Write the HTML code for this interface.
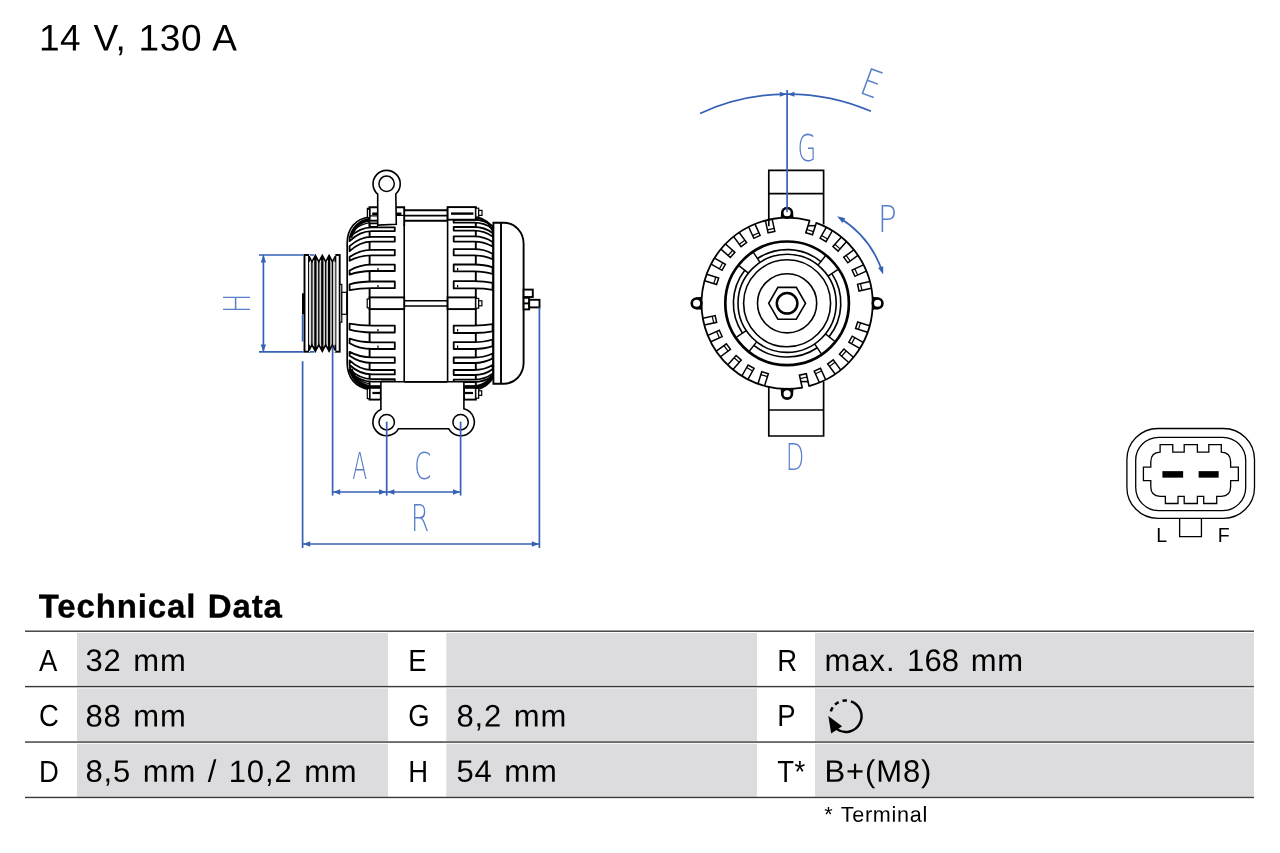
<!DOCTYPE html>
<html lang="en">
<head>
<meta charset="utf-8">
<title>14 V, 130 A - Technical Data</title>
<style>
html,body{margin:0;padding:0;background:#fff;}
body{width:1280px;height:853px;overflow:hidden;font-family:"Liberation Sans",sans-serif;color:#000;}
#sheet{position:absolute;left:0;top:0;width:1280px;height:853px;overflow:hidden;will-change:transform;background:#fff;}
svg{position:absolute;left:0;top:0;}
.t{position:absolute;white-space:nowrap;line-height:1;margin:0;transform-origin:0 0;}
#title{font-size:37px;letter-spacing:0.6px;word-spacing:1.4px;font-weight:400;}
#h2{font-size:33px;font-weight:700;letter-spacing:0.85px;word-spacing:1.6px;-webkit-text-stroke:0.35px #000;}
.k{font-size:30.5px;letter-spacing:0.5px;}
.c{font-size:31px;letter-spacing:0.9px;word-spacing:2px;}
#fn{font-size:21.6px;letter-spacing:0.7px;word-spacing:1px;}
</style>
</head>
<body>
<div id="sheet">
<svg width="1280" height="853" viewBox="0 0 1280 853" role="img" aria-label="Alternator dimensional drawing">
<!-- table background -->
<g stroke="none">
<rect x="77" y="632.95" width="311" height="52.9" fill="#dcdcde"/>
<rect x="446.3" y="632.95" width="310.7" height="52.9" fill="#dcdcde"/>
<rect x="815" y="632.95" width="439" height="52.9" fill="#dcdcde"/>
<rect x="77" y="688.35" width="311" height="52.95" fill="#dcdcde"/>
<rect x="446.3" y="688.35" width="310.7" height="52.95" fill="#dcdcde"/>
<rect x="815" y="688.35" width="439" height="52.95" fill="#dcdcde"/>
<rect x="77" y="743.8" width="311" height="52.9" fill="#dcdcde"/>
<rect x="446.3" y="743.8" width="310.7" height="52.9" fill="#dcdcde"/>
<rect x="815" y="743.8" width="439" height="52.9" fill="#dcdcde"/>
<rect x="25" y="630.5" width="1229" height="1.4" fill="#383838"/>
<rect x="25" y="685.9" width="1229" height="1.4" fill="#383838"/>
<rect x="25" y="741.35" width="1229" height="1.4" fill="#383838"/>
<rect x="25" y="796.75" width="1229" height="1.4" fill="#383838"/>
</g>
<!-- side view -->
<g fill="none" stroke="#000" stroke-width="1.9" stroke-linejoin="miter">
<rect x="304.5" y="255" width="4.5" height="96.7" fill="#fff"/>
<rect x="335.4" y="255" width="4.3" height="96.7" fill="#fff"/>
<rect x="309" y="261.8" width="26.4" height="83" fill="#d8d8d8" stroke="none"/>
<polygon points="309,256 311.9,261.8 315.4,255.4 318.8,261.8 322.3,255.4 325.7,261.8 329.1,255.4 332.4,261.8 335.4,256 335.4,254.3 309,254.3" fill="#fff" stroke="none"/>
<polygon points="309,350.6 311.9,344.8 315.4,351.2 318.8,344.8 322.3,351.2 325.7,344.8 329.1,351.2 332.4,344.8 335.4,350.6 335.4,352.3 309,352.3" fill="#fff" stroke="none"/>
<polyline points="309,256 311.9,261.8 315.4,255.4 318.8,261.8 322.3,255.4 325.7,261.8 329.1,255.4 332.4,261.8 335.4,256" stroke-width="1.6"/>
<polyline points="309,350.6 311.9,344.8 315.4,351.2 318.8,344.8 322.3,351.2 325.7,344.8 329.1,351.2 332.4,344.8 335.4,350.6" stroke-width="1.6"/>
<path d="M315.4 256.8 V349.8" stroke-width="2.3"/>
<path d="M315.4 254.8 L313.2 259.8 L317.6 259.8 Z" fill="#000" stroke="none"/>
<path d="M315.4 351.8 L313.2 346.8 L317.6 346.8 Z" fill="#000" stroke="none"/>
<path d="M322.3 256.8 V349.8" stroke-width="2.3"/>
<path d="M322.3 254.8 L320.1 259.8 L324.5 259.8 Z" fill="#000" stroke="none"/>
<path d="M322.3 351.8 L320.1 346.8 L324.5 346.8 Z" fill="#000" stroke="none"/>
<path d="M329.1 256.8 V349.8" stroke-width="2.3"/>
<path d="M329.1 254.8 L326.9 259.8 L331.3 259.8 Z" fill="#000" stroke="none"/>
<path d="M329.1 351.8 L326.9 346.8 L331.3 346.8 Z" fill="#000" stroke="none"/>
<path d="M311.9 261.8 V344.8" stroke-width="1.3"/>
<path d="M318.8 261.8 V344.8" stroke-width="1.3"/>
<path d="M325.7 261.8 V344.8" stroke-width="1.3"/>
<path d="M332.4 261.8 V344.8" stroke-width="1.3"/>
<rect x="339.8" y="284.4" width="2" height="37.8" fill="#fff" stroke-width="1.2"/>
<rect x="341.8" y="292.3" width="5" height="22" fill="#fff" stroke-width="1.2"/>
<rect x="302" y="293.3" width="2.6" height="21.1" fill="#000" stroke="none"/>
<path d="M493.4 222.7 H504 A19.6 21 0 0 1 523.6 243.7 V362.7 A19.6 21 0 0 1 504 383.7 H493.4 Z" fill="#fff"/>
<path d="M501 222.7 V383.7"/>
<rect x="523.6" y="289.6" width="9.2" height="7.4" fill="#fff"/>
<rect x="523.6" y="297.8" width="5.6" height="11.6" fill="#fff"/>
<path d="M523.6 303.4 H529.2"/>
<rect x="529.2" y="299.8" width="10.3" height="7.6" fill="#fff"/>
<path d="M369.5 217 C356 218.5 347.2 228 347.2 243 V363 C347.2 378 356 387.5 369.5 389.4" stroke-width="1.7"/>
<path d="M369.5 219.8 C358.5 221.4 351 229 349.6 240" stroke-width="1.3"/>
<path d="M369.5 386.6 C358.5 385 351 377.4 349.6 366.4" stroke-width="1.3"/>
<path d="M369.5 222.6 C359 224.5 351.5 231 349.6 240.5" stroke-width="1.3"/>
<path d="M369.5 383.6 C359 381.8 351.5 375 349.6 365.5" stroke-width="1.3"/>
<path d="M369.6 207.2 V399.6"/>
<path d="M404.2 207.5 V381.7 M447.6 207.5 V381.7" stroke-width="1.6"/>
<path d="M475.8 207.2 V399.6"/>
<path d="M475.8 216.6 C484 218.5 490 223 493.4 229.5" stroke-width="1.6"/>
<path d="M475.8 219 C483 220.6 489.5 225 493 232" stroke-width="1.2"/>
<path d="M475.8 389.8 C484 388 490 383.4 493.4 377" stroke-width="1.6"/>
<path d="M475.8 387.4 C483 385.8 489.5 381.4 493 374.4" stroke-width="1.2"/>
<path d="M493 229 V377.4" stroke-width="1.4"/>
<path d="M372 227.4 H394.8 V231.1 H372 C362 231.1 354.6 236.1 349.6 241.1 V237.4 C354.6 232.4 362 227.4 372 227.4" stroke-width="1.8" fill="#fff" stroke-linejoin="round"/>
<path d="M372 236.8 H394.8 V241.6 H372 C362 241.6 354.6 246.4 349.6 251.2 V246.2 C354.6 241.5 362 236.8 372 236.8" stroke-width="1.8" fill="#fff" stroke-linejoin="round"/>
<path d="M372 249.8 H394.8 V255.3 H372 C362 255.3 354.6 258 349.6 260.7 V257 C354.6 253.4 362 249.8 372 249.8" stroke-width="1.8" fill="#fff" stroke-linejoin="round"/>
<path d="M372 264.7 H394.8 V271 H372 C362 271 354.6 272.8 349.6 274.6 V270.5 C354.6 267.6 362 264.7 372 264.7" stroke-width="1.8" fill="#fff" stroke-linejoin="round"/>
<path d="M372 281.5 H394.8 V288.2 H372 C362 288.2 354.6 289.2 349.6 290.2 V284.3 C354.6 282.9 362 281.5 372 281.5" stroke-width="1.8" fill="#fff" stroke-linejoin="round"/>
<path d="M372 325.6 H394.8 V332.5 H372 C362 332.5 354.6 331.1 349.6 329.7 V323.6 C354.6 324.6 362 325.6 372 325.6" stroke-width="1.8" fill="#fff" stroke-linejoin="round"/>
<path d="M372 342.3 H394.8 V349 H372 C362 349 354.6 346.1 349.6 343.2 V338.7 C354.6 340.5 362 342.3 372 342.3" stroke-width="1.8" fill="#fff" stroke-linejoin="round"/>
<path d="M372 357.3 H394.8 V362.9 H372 C362 362.9 354.6 359.3 349.6 355.7 V351.9 C354.6 354.6 362 357.3 372 357.3" stroke-width="1.8" fill="#fff" stroke-linejoin="round"/>
<path d="M372 370 H394.8 V374.4 H372 C362 374.4 354.6 369.7 349.6 365 V360.4 C354.6 365.2 362 370 372 370" stroke-width="1.8" fill="#fff" stroke-linejoin="round"/>
<path d="M372 379.2 H394.8 V381.6 H372 C362 381.6 354.6 376.6 349.6 371.6 V369.2 C354.6 374.2 362 379.2 372 379.2" stroke-width="1.8" fill="#fff" stroke-linejoin="round"/>
<path d="M474 219.9 H453.7 V222.7 H474 C482 222.7 488.6 225.7 492.6 228.7 V225.9 C488.6 222.9 482 219.9 474 219.9" stroke-width="1.8" fill="#fff" stroke-linejoin="round"/>
<path d="M474 227 H453.7 V230.6 H474 C482 230.6 488.6 233.6 492.6 236.6 V233 C488.6 230 482 227 474 227" stroke-width="1.8" fill="#fff" stroke-linejoin="round"/>
<path d="M474 236.3 H453.7 V241.6 H474 C482 241.6 488.6 244.1 492.6 246.6 V242 C488.6 239.15 482 236.3 474 236.3" stroke-width="1.8" fill="#fff" stroke-linejoin="round"/>
<path d="M474 249.1 H453.7 V255.3 H474 C482 255.3 488.6 257.3 492.6 259.3 V253.7 C488.6 251.4 482 249.1 474 249.1" stroke-width="1.8" fill="#fff" stroke-linejoin="round"/>
<path d="M474 264.5 H453.7 V271.4 H474 C482 271.4 488.6 272.7 492.6 274 V267.3 C488.6 265.9 482 264.5 474 264.5" stroke-width="1.8" fill="#fff" stroke-linejoin="round"/>
<path d="M474 281.2 H453.7 V288.4 H474 C482 288.4 488.6 289.1 492.6 289.8 V282.8 C488.6 282 482 281.2 474 281.2" stroke-width="1.8" fill="#fff" stroke-linejoin="round"/>
<path d="M474 325.6 H453.7 V333 H474 C482 333 488.6 332.2 492.6 331.4 V324.2 C488.6 324.9 482 325.6 474 325.6" stroke-width="1.8" fill="#fff" stroke-linejoin="round"/>
<path d="M474 342.1 H453.7 V349 H474 C482 349 488.6 347.6 492.6 346.2 V339.5 C488.6 340.8 482 342.1 474 342.1" stroke-width="1.8" fill="#fff" stroke-linejoin="round"/>
<path d="M474 357.5 H453.7 V363 H474 C482 363 488.6 360.7 492.6 358.4 V353.5 C488.6 355.5 482 357.5 474 357.5" stroke-width="1.8" fill="#fff" stroke-linejoin="round"/>
<path d="M474 370 H453.7 V375 H474 C482 375 488.6 372.15 492.6 369.3 V365 C488.6 367.5 482 370 474 370" stroke-width="1.8" fill="#fff" stroke-linejoin="round"/>
<path d="M474 379.6 H453.7 V382 H474 C482 382 488.6 379 492.6 376 V373.6 C488.6 376.6 482 379.6 474 379.6" stroke-width="1.8" fill="#fff" stroke-linejoin="round"/>
<path d="M378 268 v2.6" stroke-width="1.2"/>
<path d="M457.6 268 v2.6" stroke-width="1.2"/>
<path d="M378 285 v2.6" stroke-width="1.2"/>
<path d="M457.6 285 v2.6" stroke-width="1.2"/>
<path d="M378 329 v2.6" stroke-width="1.2"/>
<path d="M457.6 329 v2.6" stroke-width="1.2"/>
<path d="M378 345.5 v2.6" stroke-width="1.2"/>
<path d="M457.6 345.5 v2.6" stroke-width="1.2"/>
<rect x="369.6" y="207.3" width="34.6" height="17.4" fill="#fff" stroke="none"/>
<path d="M369.6 226.6 V207.3 H404.2 V226"/>
<rect x="367.4" y="208.4" width="2.2" height="9.4" fill="#fff" stroke-width="1.3"/>
<path d="M372.2 213.7 H378 M396 213.7 H401.4" stroke-width="2.4"/>
<path d="M369.6 215.9 H378 M369.6 220.4 H378 M369.6 223.6 H378 M369.6 226.6 H378" stroke-width="1.3"/>
<path d="M369.6 221.9 H378" stroke-width="1.6" stroke="#444"/>
<path d="M396 215.4 H404" stroke-width="1.2"/>
<path d="M404.2 210.3 H447.6 M404.2 215.6 H447.6 M404.2 220.8 H447.6"/>
<rect x="447.6" y="207.1" width="28.2" height="12.6" fill="#fff"/>
<path d="M451 213.6 H473.4" stroke-width="2.4"/>
<rect x="475.8" y="208.2" width="2.9" height="8.8" fill="#fff" stroke-width="1.2"/>
<rect x="478.7" y="210.4" width="3.3" height="5" fill="#fff" stroke-width="1.2"/>
<rect x="369.6" y="297.4" width="34.6" height="11.7" fill="#fff"/>
<rect x="367.2" y="299" width="2.4" height="8.8" fill="#fff" stroke-width="1.2"/>
<path d="M404.2 300.7 H447.6 M404.2 306 H447.6" stroke-width="1.6"/>
<rect x="447.6" y="297.4" width="28.2" height="11.7" fill="#fff"/>
<rect x="475.8" y="298.4" width="2.9" height="9.8" fill="#fff" stroke-width="1.2"/>
<rect x="478.7" y="300.8" width="3.2" height="5" fill="#fff" stroke-width="1.2"/>
<rect x="369.6" y="387" width="11.2" height="12.6" fill="#fff"/>
<rect x="367.3" y="388.6" width="2.3" height="10" fill="#fff" stroke-width="1.2"/>
<path d="M372.4 393 H380" stroke-width="2.2"/>
<rect x="464" y="386.6" width="11.8" height="13" fill="#fff"/>
<path d="M465 393 H473" stroke-width="2.2"/>
<rect x="475.8" y="388.4" width="2.9" height="9.8" fill="#fff" stroke-width="1.2"/>
<rect x="478.7" y="390.8" width="3" height="4.6" fill="#fff" stroke-width="1.2"/>
<path d="M350.6 369 C353.4 379.4 360 385.4 369.6 387" stroke-width="4.2"/>
<path d="M369.6 387 H380.4" stroke-width="3.6"/>
<path d="M464.4 387 H475.8" stroke-width="3.6"/>
<path d="M475.8 387 C484 385.4 489.6 381.6 492.4 376" stroke-width="3.8"/>
<path d="M350.6 237.6 C353.4 227.2 360 221.2 369.6 219.8" stroke-width="3.4"/>
<path d="M475.8 217.4 C484 219 489.8 223.4 492.8 230" stroke-width="1.5"/>
<path d="M381 381.4 H394.4" stroke-width="2.4" stroke="#555"/>
<path d="M377.7 225.1 L377.7 194.2 A13.6 13.6 0 1 1 395.8 194 L396.3 224.2 Z" fill="#fff" stroke-width="1.6"/>
<circle cx="386.6" cy="183.8" r="7.7" stroke-width="1.5"/>
<path d="M380.9 381.8 V409.6 A13.7 13.7 0 1 0 398.6 428.7 H448.6 A13.7 13.7 0 1 0 463.9 408.8 V381.8 Z" fill="#fff" stroke-width="1.6"/>
<path d="M404.2 381.8 H447.6" stroke-width="1.8"/>
<circle cx="386.7" cy="422.2" r="7.7" stroke-width="1.5"/>
<circle cx="460.6" cy="422.2" r="7.7" stroke-width="1.5"/>
</g>
<!-- front view -->
<g fill="none" stroke="#000" stroke-width="1.7">
<path d="M768.8 226 V170.4 H823.6 V224.5 M768.8 193.6 H823.6" stroke-width="1.7"/>
<path d="M768.8 381 V436 H823.6 V381.5 M768.8 410 H823.6" stroke-width="1.7"/>
<circle cx="787.1" cy="303.3" r="85.6" fill="#fff" stroke="none"/>
<path d="M768.8 218 V226.2" stroke-width="1.7"/>
<path d="M869.58 325.69 L857.66 321.93 L855.59 328.51 L867.51 332.27" stroke-width="1.5"/><path d="M860.52 322.83 L858.45 329.41" stroke-width="1.2"/>
<path d="M764.57 385.75 L768.35 373.83 L761.77 371.74 L757.99 383.66" stroke-width="1.5"/><path d="M767.44 376.69 L760.86 374.6" stroke-width="1.2"/>
<path d="M704.65 280.77 L716.57 284.55 L718.66 277.97 L706.74 274.19" stroke-width="1.5"/><path d="M713.71 283.64 L715.8 277.06" stroke-width="1.2"/>
<path d="M826.28 227.34 L820.11 238.21 L826.11 241.62 L832.28 230.75" stroke-width="1.5"/><path d="M821.59 235.6 L827.59 239.01" stroke-width="1.2"/>
<path d="M863.13 342.35 L852.25 336.19 L848.85 342.2 L859.73 348.36" stroke-width="1.5"/><path d="M854.86 337.67 L851.46 343.68" stroke-width="1.2"/>
<path d="M747.92 379.26 L754.09 368.39 L748.09 364.98 L741.92 375.85" stroke-width="1.5"/><path d="M752.61 371 L746.61 367.59" stroke-width="1.2"/>
<path d="M711.14 264.12 L722.01 270.29 L725.42 264.29 L714.55 258.12" stroke-width="1.5"/><path d="M719.4 268.81 L722.81 262.81" stroke-width="1.2"/>
<path d="M841.22 237.15 L832.92 246.49 L838.08 251.08 L846.38 241.73" stroke-width="1.5"/><path d="M834.91 244.25 L840.07 248.83" stroke-width="1.2"/>
<path d="M853.35 357.3 L843.98 349.02 L839.41 354.19 L848.77 362.47" stroke-width="1.5"/><path d="M846.23 351.01 L841.66 356.18" stroke-width="1.2"/>
<path d="M732.98 369.45 L741.28 360.11 L736.12 355.52 L727.82 364.87" stroke-width="1.5"/><path d="M739.29 362.35 L734.13 357.77" stroke-width="1.2"/>
<path d="M720.95 249.18 L730.29 257.48 L734.88 252.32 L725.53 244.02" stroke-width="1.5"/><path d="M728.05 255.49 L732.63 250.33" stroke-width="1.2"/>
<path d="M853.79 249.85 L843.73 257.26 L847.82 262.82 L857.89 255.4" stroke-width="1.5"/><path d="M846.14 255.48 L850.24 261.04" stroke-width="1.2"/>
<path d="M840.67 369.9 L833.24 359.85 L827.69 363.95 L835.12 374" stroke-width="1.5"/><path d="M835.02 362.26 L829.47 366.36" stroke-width="1.2"/>
<path d="M720.41 356.75 L730.47 349.34 L726.38 343.78 L716.31 351.2" stroke-width="1.5"/><path d="M728.06 351.12 L723.96 345.56" stroke-width="1.2"/>
<path d="M733.65 236.61 L741.06 246.67 L746.62 242.58 L739.2 232.51" stroke-width="1.5"/><path d="M739.28 244.26 L744.84 240.16" stroke-width="1.2"/>
<path d="M863.45 264.88 L852.06 270.04 L854.91 276.33 L866.3 271.16" stroke-width="1.5"/><path d="M854.8 268.8 L857.65 275.09" stroke-width="1.2"/>
<path d="M825.65 379.58 L820.47 368.21 L814.19 371.07 L819.38 382.44" stroke-width="1.5"/><path d="M821.71 370.94 L815.44 373.8" stroke-width="1.2"/>
<path d="M710.75 341.72 L722.14 336.56 L719.29 330.27 L707.9 335.44" stroke-width="1.5"/><path d="M719.4 337.8 L716.55 331.51" stroke-width="1.2"/>
<path d="M748.68 226.95 L753.84 238.34 L760.13 235.49 L754.96 224.1" stroke-width="1.5"/><path d="M752.6 235.6 L758.89 232.75" stroke-width="1.2"/>
<path d="M869.77 281.59 L857.56 284.28 L859.04 291.02 L871.25 288.33" stroke-width="1.5"/><path d="M860.49 283.63 L861.97 290.37" stroke-width="1.2"/>
<path d="M704.43 325.01 L716.64 322.32 L715.16 315.58 L702.95 318.27" stroke-width="1.5"/><path d="M713.71 322.97 L712.23 316.23" stroke-width="1.2"/>
<path d="M765.39 220.63 L768.08 232.84 L774.82 231.36 L772.13 219.15" stroke-width="1.5"/><path d="M767.43 229.91 L774.17 228.43" stroke-width="1.2"/>
<path d="M809.83 220.08 L805.81 232.75 L812.48 234.87 L816.5 222.19" stroke-width="1.6"/>
<path d="M806.83 229.51 L813.51 231.63" stroke-width="1.2"/>
<path d="M808.04 225.7 L815.39 225.7" stroke-width="1.6"/>
<path d="M809.17 386.7 L806.3 373.71 L799.46 375.23 L802.34 388.21" stroke-width="1.6"/>
<path d="M807.03 377.03 L800.2 378.55" stroke-width="1.2"/>
<path d="M808.04 381.6 L800.87 381.6" stroke-width="1.6"/>
<path d="M782.2 212.2 L781.6 218.1 M792 212.2 L792.6 218.1" stroke-width="2"/>
<circle cx="787.1" cy="212.8" r="4.85" fill="#fff" stroke-width="2.6"/>
<path d="M878.2 298.4 L872.3 297.8 M878.2 308.2 L872.3 308.8" stroke-width="2"/>
<circle cx="877.6" cy="303.3" r="4.85" fill="#fff" stroke-width="2.6"/>
<path d="M792 394.4 L792.6 388.5 M782.2 394.4 L781.6 388.5" stroke-width="2"/>
<circle cx="787.1" cy="393.8" r="4.85" fill="#fff" stroke-width="2.6"/>
<path d="M696 308.2 L701.9 308.8 M696 298.4 L701.9 297.8" stroke-width="2"/>
<circle cx="696.6" cy="303.3" r="4.85" fill="#fff" stroke-width="2.6"/>
<path d="M816.24 222.81 A85.6 85.6 0 0 1 808.97 386.06" stroke-width="1.8"/>
<path d="M802.26 387.55 A85.6 85.6 0 1 1 809.69 220.73" stroke-width="1.8"/>
<circle cx="787.1" cy="303.3" r="61.8" stroke-width="2.7"/>
<circle cx="787.1" cy="303.3" r="49.1" stroke-width="1.6"/>
<circle cx="787.1" cy="303.3" r="43.5" stroke-width="1.6"/>
<circle cx="787.1" cy="303.3" r="29.6" stroke-width="1.6"/>
<path d="M757.46 258.52 A53.7 53.7 0 0 1 820.89 261.57" stroke-width="1.6"/>
<path d="M760 262.36 L753.54 252.6" stroke-width="1.45"/>
<path d="M818 265.14 L825.36 256.05" stroke-width="1.45"/>
<path d="M831.83 273.58 A53.7 53.7 0 0 1 829.07 336.8" stroke-width="1.6"/>
<path d="M828 276.13 L837.74 269.65" stroke-width="1.45"/>
<path d="M825.47 333.93 L834.62 341.23" stroke-width="1.45"/>
<path d="M817.21 347.77 A53.7 53.7 0 0 1 753.82 345.44" stroke-width="1.6"/>
<path d="M814.63 343.96 L821.19 353.65" stroke-width="1.45"/>
<path d="M756.67 341.83 L749.42 351.01" stroke-width="1.45"/>
<path d="M742.42 333.1 A53.7 53.7 0 0 1 744.78 270.24" stroke-width="1.6"/>
<path d="M746.25 330.54 L736.52 337.03" stroke-width="1.45"/>
<path d="M748.41 273.07 L739.19 265.87" stroke-width="1.45"/>
<polygon points="805.5,303.3 796.3,319.23 777.9,319.23 768.7,303.3 777.9,287.37 796.3,287.37" stroke-width="1.6"/>
<circle cx="787.1" cy="303.3" r="10.3" stroke-width="2.5"/>
</g>
<!-- dimension lines -->
<g fill="none" stroke="#3661b5" stroke-width="1.7">
<path d="M259 255 H303.6 M309.9 255 H314.4 M259 351.8 H303.6 M309.9 351.8 H314.4 M263.4 255 V352"/>
<path d="M263.4 255.2 L266.1 262.4 L260.7 262.4 Z" fill="#3661b5" stroke="none"/>
<path d="M263.4 351.6 L260.7 344.4 L266.1 344.4 Z" fill="#3661b5" stroke="none"/>
<path d="M302.6 314.4 V341.4 M302.6 361.2 V548"/>
<path d="M332.6 346.6 V495.6"/>
<path d="M386.7 421.6 V495.6"/>
<path d="M460.6 421.6 V495.6"/>
<path d="M539.4 307.4 V548"/>
<path d="M332.6 492 H460.6"/>
<path d="M333 492 L340.2 489.3 L340.2 494.7 Z" fill="#3661b5" stroke="none"/>
<path d="M386.2 492 L379 494.7 L379 489.3 Z" fill="#3661b5" stroke="none"/>
<path d="M387.2 492 L394.4 489.3 L394.4 494.7 Z" fill="#3661b5" stroke="none"/>
<path d="M460.2 492 L453 494.7 L453 489.3 Z" fill="#3661b5" stroke="none"/>
<path d="M302.6 544 H539.4"/>
<path d="M303 544 L310.2 541.3 L310.2 546.7 Z" fill="#3661b5" stroke="none"/>
<path d="M539 544 L531.8 546.7 L531.8 541.3 Z" fill="#3661b5" stroke="none"/>
<path d="M700 113.4 A209 209 0 0 1 871 111.3"/>
<path d="M787.1 90 V212"/>
<path d="M786.6 94.3 L779.8 96.8 L779.8 91.8 Z" fill="#3661b5" stroke="none"/>
<path d="M787.6 94.3 L794.4 91.8 L794.4 96.8 Z" fill="#3661b5" stroke="none"/>
<path d="M839.38 217.7 A100.3 100.3 0 0 1 882.42 272.07"/>
<path d="M837.12 216.36 L845.34 218.3 L842.48 222.88 Z" fill="#3661b5" stroke="none"/>
<path d="M883.2 274.58 L878.08 267.86 L883.2 266.14 Z" fill="#3661b5" stroke="none"/>
</g>
<text transform="translate(249.6 310.05) rotate(-90) scale(0.7040 1)" x="-4.54" y="0" font-family="'DejaVu Sans Light','DejaVu Sans','Liberation Sans',sans-serif" font-weight="200" font-size="37.31" fill="#5a7fca">H</text>
<text transform="translate(353 478.7) rotate(0) scale(0.5912 1)" x="-1.1" y="0" font-family="'DejaVu Sans Light','DejaVu Sans','Liberation Sans',sans-serif" font-weight="200" font-size="37.04" fill="#5a7fca">A</text>
<text transform="translate(416.4 479.1) rotate(0) scale(0.6692 1)" x="-3.05" y="-0.52" font-family="'DejaVu Sans Light','DejaVu Sans','Liberation Sans',sans-serif" font-weight="200" font-size="36.76" fill="#5a7fca">C</text>
<text transform="translate(414.1 530.8) rotate(0) scale(0.7036 1)" x="-4.69" y="0" font-family="'DejaVu Sans Light','DejaVu Sans','Liberation Sans',sans-serif" font-weight="200" font-size="38.13" fill="#5a7fca">R</text>
<text transform="translate(799.6 162) rotate(0) scale(0.6604 1)" x="-3.07" y="-0.52" font-family="'DejaVu Sans Light','DejaVu Sans','Liberation Sans',sans-serif" font-weight="200" font-size="36.76" fill="#5a7fca">G</text>
<text transform="translate(881.7 231.7) rotate(0) scale(0.8499 1)" x="-4.55" y="0" font-family="'DejaVu Sans Light','DejaVu Sans','Liberation Sans',sans-serif" font-weight="200" font-size="37.31" fill="#5a7fca">P</text>
<text transform="translate(788.7 470.3) rotate(0) scale(0.6500 1)" x="-4.5" y="0" font-family="'DejaVu Sans Light','DejaVu Sans','Liberation Sans',sans-serif" font-weight="200" font-size="37.04" fill="#5a7fca">D</text>
<text transform="translate(861.5 93.7) rotate(20.3) scale(0.8033 1)" x="-4.6" y="0" font-family="'DejaVu Sans Light','DejaVu Sans','Liberation Sans',sans-serif" font-weight="200" font-size="37.86" fill="#5a7fca">E</text>
<!-- connector -->
<g fill="none" stroke="#000" stroke-width="1.3">
<rect x="1126.9" y="428.5" width="127.6" height="89.9" rx="31" ry="31"/>
<rect x="1135.7" y="437.3" width="110" height="73.3" rx="23" ry="23"/>
<path d="M1160.11 452.15 V444.59 H1172.77 V452.15 H1184.2 V444.59 H1197.38 V452.15 H1208.81 V444.59 H1221.3 V452.15 Q1230.62 452.5 1230.62 461.82 V467.09 H1238.35 V480.63 H1230.62 V486.78 Q1230.62 496.1 1221.3 496.45 H1216.73 V503.49 H1203.71 V496.45 H1197.38 V503.49 H1184.2 V496.45 H1178.04 V503.49 H1165.38 V496.45 H1160.11 Q1150.79 496.1 1150.79 486.78 V480.63 H1143.41 V467.09 H1150.79 V461.82 Q1150.79 452.5 1160.11 452.15 Z" stroke-width="1.3"/>
<rect x="1162.4" y="471.14" width="20.75" height="6.51" fill="#000" stroke="none"/>
<rect x="1198.62" y="471.14" width="20.04" height="6.51" fill="#000" stroke="none"/>
<path d="M1179.63 518.78 V536.54 H1201.43 V518.78"/>
</g>
<text x="1156.3" y="541.6" font-family="'Liberation Sans',sans-serif" font-size="19.5" fill="#000">L</text>
<text x="1217.8" y="541.6" font-family="'Liberation Sans',sans-serif" font-size="19.5" fill="#000">F</text>
<!-- rotation icon -->
<g fill="none" stroke="#000" stroke-width="2.5">
<path d="M850.93 701.31 A15.75 15.75 0 1 1 836.99 729.26"/>
<path d="M830.82 711.33 A15.75 15.75 0 0 1 832.74 707.39"/>
<path d="M835.06 704.68 A15.75 15.75 0 0 1 838.65 702.17"/>
<path d="M842.53 700.79 A15.75 15.75 0 0 1 846.9 700.49"/>
</g>
<path d="M828.3 716.1 L842.1 726.3 L831.2 733.6 Z" fill="#000"/>
</svg>
<h1 class="t" id="title" style="left:38px;top:19px;transform:translate(0.9px,0.4px) rotate(0.03deg)">14 V, 130 A</h1>
<h2 class="t" id="h2" style="left:38px;top:589px;transform:translate(0.8px,0.5px) rotate(0.03deg)">Technical Data</h2>
<div class="t k" style="left:39px;top:645px;transform:translate(0px,0px) rotate(0.03deg) scaleX(0.9)">A</div>
<div class="t c" style="left:85px;top:645px;transform:translate(0.4px,0px) rotate(0.03deg)">32 mm</div>
<div class="t k" style="left:408px;top:645px;transform:translate(0.3px,0px) rotate(0.03deg) scaleX(0.9)">E</div>
<div class="t k" style="left:777px;top:645px;transform:translate(0.3px,0px) rotate(0.03deg) scaleX(0.9)">R</div>
<div class="t c" style="left:824px;top:645px;transform:translate(0.4px,0px) rotate(0.03deg)"><span style="letter-spacing:1px">max.</span> <span style="letter-spacing:0.1px">168</span> mm</div>
<div class="t k" style="left:39px;top:700px;transform:translate(0px,0.4px) rotate(0.03deg) scaleX(0.9)">C</div>
<div class="t c" style="left:85px;top:700px;transform:translate(0.4px,0.4px) rotate(0.03deg)">88 mm</div>
<div class="t k" style="left:408px;top:700px;transform:translate(0.3px,0.4px) rotate(0.03deg) scaleX(0.9)">G</div>
<div class="t c" style="left:456px;top:700px;transform:translate(0.4px,0.4px) rotate(0.03deg)">8,2 mm</div>
<div class="t k" style="left:777px;top:700px;transform:translate(0.3px,0.4px) rotate(0.03deg) scaleX(0.9)">P</div>
<div class="t k" style="left:39px;top:755px;transform:translate(0px,0.8px) rotate(0.03deg) scaleX(0.9)">D</div>
<div class="t c" style="left:85px;top:755px;transform:translate(0.4px,0.8px) rotate(0.03deg)">8,5 mm / 10,2 mm</div>
<div class="t k" style="left:408px;top:755px;transform:translate(0.3px,0.8px) rotate(0.03deg) scaleX(0.9)">H</div>
<div class="t c" style="left:456px;top:755px;transform:translate(0.4px,0.8px) rotate(0.03deg)">54 mm</div>
<div class="t k" style="left:777px;top:755px;transform:translate(0.3px,0.8px) rotate(0.03deg) scaleX(0.9)">T*</div>
<div class="t c" style="left:824px;top:755px;transform:translate(0.4px,0.8px) rotate(0.03deg)">B+(M8)</div>
<div class="t" id="fn" style="left:824px;top:803px;transform:translate(0.3px,0.8px) rotate(0.03deg)">* Terminal</div>
</div>
</body>
</html>
